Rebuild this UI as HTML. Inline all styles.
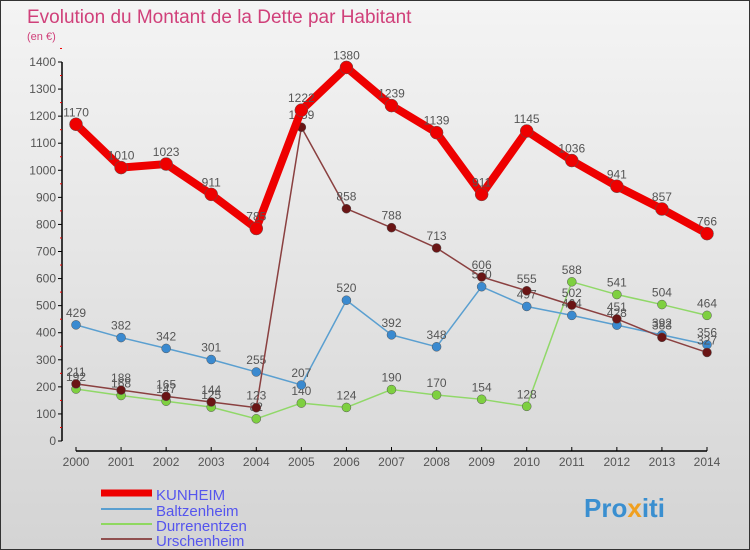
<!DOCTYPE html>
<html><head><meta charset="utf-8"><style>
body{margin:0}
#c{width:750px;height:550px;position:relative;background:linear-gradient(#f4f4f4,#d4d4d4);box-sizing:border-box;border:1px solid #333;font-family:"Liberation Sans",sans-serif;overflow:hidden}
svg text{font-family:"Liberation Sans",sans-serif}
</style></head><body>
<div id="c">
<svg id="s" width="750" height="550">
<text x="26" y="22" font-size="19" fill="#d0407a">Evolution du Montant de la Dette par Habitant</text>
<text x="26" y="39" font-size="11" fill="#d0407a">(en €)</text>
<g id="axes"></g><g id="series"></g>
<g>
<line x1="100" y1="492" x2="151" y2="492" stroke="#e00" stroke-width="7"/>
<text x="155" y="499" font-size="15" fill="#5555ee">KUNHEIM</text>
<line x1="100" y1="508" x2="151" y2="508" stroke="#5a9fd0" stroke-width="2"/>
<text x="155" y="515" font-size="15" fill="#5555ee">Baltzenheim</text>
<line x1="100" y1="523" x2="151" y2="523" stroke="#8fd860" stroke-width="2"/>
<text x="155" y="530" font-size="15" fill="#5555ee">Durrenentzen</text>
<line x1="100" y1="538" x2="151" y2="538" stroke="#905050" stroke-width="2"/>
<text x="155" y="545" font-size="15" fill="#5555ee">Urschenheim</text>
</g>
<text x="583" y="516" font-size="26" font-weight="bold" fill="#3a8fd0">Pro<tspan fill="#f0a020">x</tspan>iti</text>
</svg>
</div>
<script>
const years=[2000,2001,2002,2003,2004,2005,2006,2007,2008,2009,2010,2011,2012,2013,2014];
const kunheim=[1170,1010,1023,911,785,1222,1380,1239,1139,911,1145,1036,941,857,766];
const baltzenheim=[429,382,342,301,255,207,520,392,348,570,497,464,428,392,356];
const durrenentzen=[192,168,147,125,82,140,124,190,170,154,128,588,541,504,464];
const urschenheim=[211,188,165,144,123,1159,858,788,713,606,555,502,451,383,327];
const yTicks=[0,100,200,300,400,500,600,700,800,900,1000,1100,1200,1300,1400];
const NS="http://www.w3.org/2000/svg";
const xS=i=>75+i*(706-75)/14;
const yS=v=>440-v*(440-61)/1400;
function mk(tag,attrs,parent,txt){const e=document.createElementNS(NS,tag);for(const k in attrs)e.setAttribute(k,attrs[k]);if(txt!==undefined)e.textContent=txt;parent.appendChild(e);return e;}
const ax=document.getElementById('axes');
let yl=mk('line',{x1:61,y1:yS(1400),x2:61,y2:440,stroke:'#000','stroke-width':1.5},ax);


yTicks.forEach(v=>{
 mk('line',{x1:57,y1:yS(v),x2:61,y2:yS(v),stroke:'#000'},ax);
 mk('line',{x1:59,y1:yS(v+50),x2:61,y2:yS(v+50),stroke:'#e00'},ax);
 let t=mk('text',{x:55,y:yS(v)+4,'font-size':12,fill:'#555','text-anchor':'end'},ax,v);
 
 
});
let xl=mk('line',{x1:75,y1:450,x2:706,y2:450,stroke:'#000','stroke-width':1.5},ax);


years.forEach((y,i)=>{
 mk('line',{x1:xS(i),y1:446,x2:xS(i),y2:450,stroke:'#000'},ax);
 let t=mk('text',{x:xS(i),y:465,'font-size':12,fill:'#555','text-anchor':'middle'},ax,y);
 
 
});
const sg=document.getElementById('series');
function series(name,vals,color,dot,w,r){
 const g=mk('g',{},sg);
 
 
 let p=mk('polyline',{points:vals.map((v,i)=>xS(i)+','+yS(v)).join(' '),fill:'none',stroke:color,'stroke-width':w,'stroke-linejoin':'round'},g);
 
 
 vals.forEach((v,i)=>{
  let c=mk('circle',{cx:xS(i),cy:yS(v),r:r,fill:dot,stroke:'#555','stroke-width':0.5},g);
  
  
  let t=mk('text',{x:xS(i),y:yS(v)-8,'font-size':12,fill:'#555','text-anchor':'middle'},g,v);
  
  
 });
}
series('durrenentzen',durrenentzen,'#90d868','#7ed040',1.5,4.5);
series('baltzenheim',baltzenheim,'#5a9fd0','#3a8ad0',1.5,4.5);
series('urschenheim',urschenheim,'#8a4040','#6a1515',1.5,4.5);
series('kunheim',kunheim,'#ee0000','#ee0000',8,6.5);
</script>
</body></html>
